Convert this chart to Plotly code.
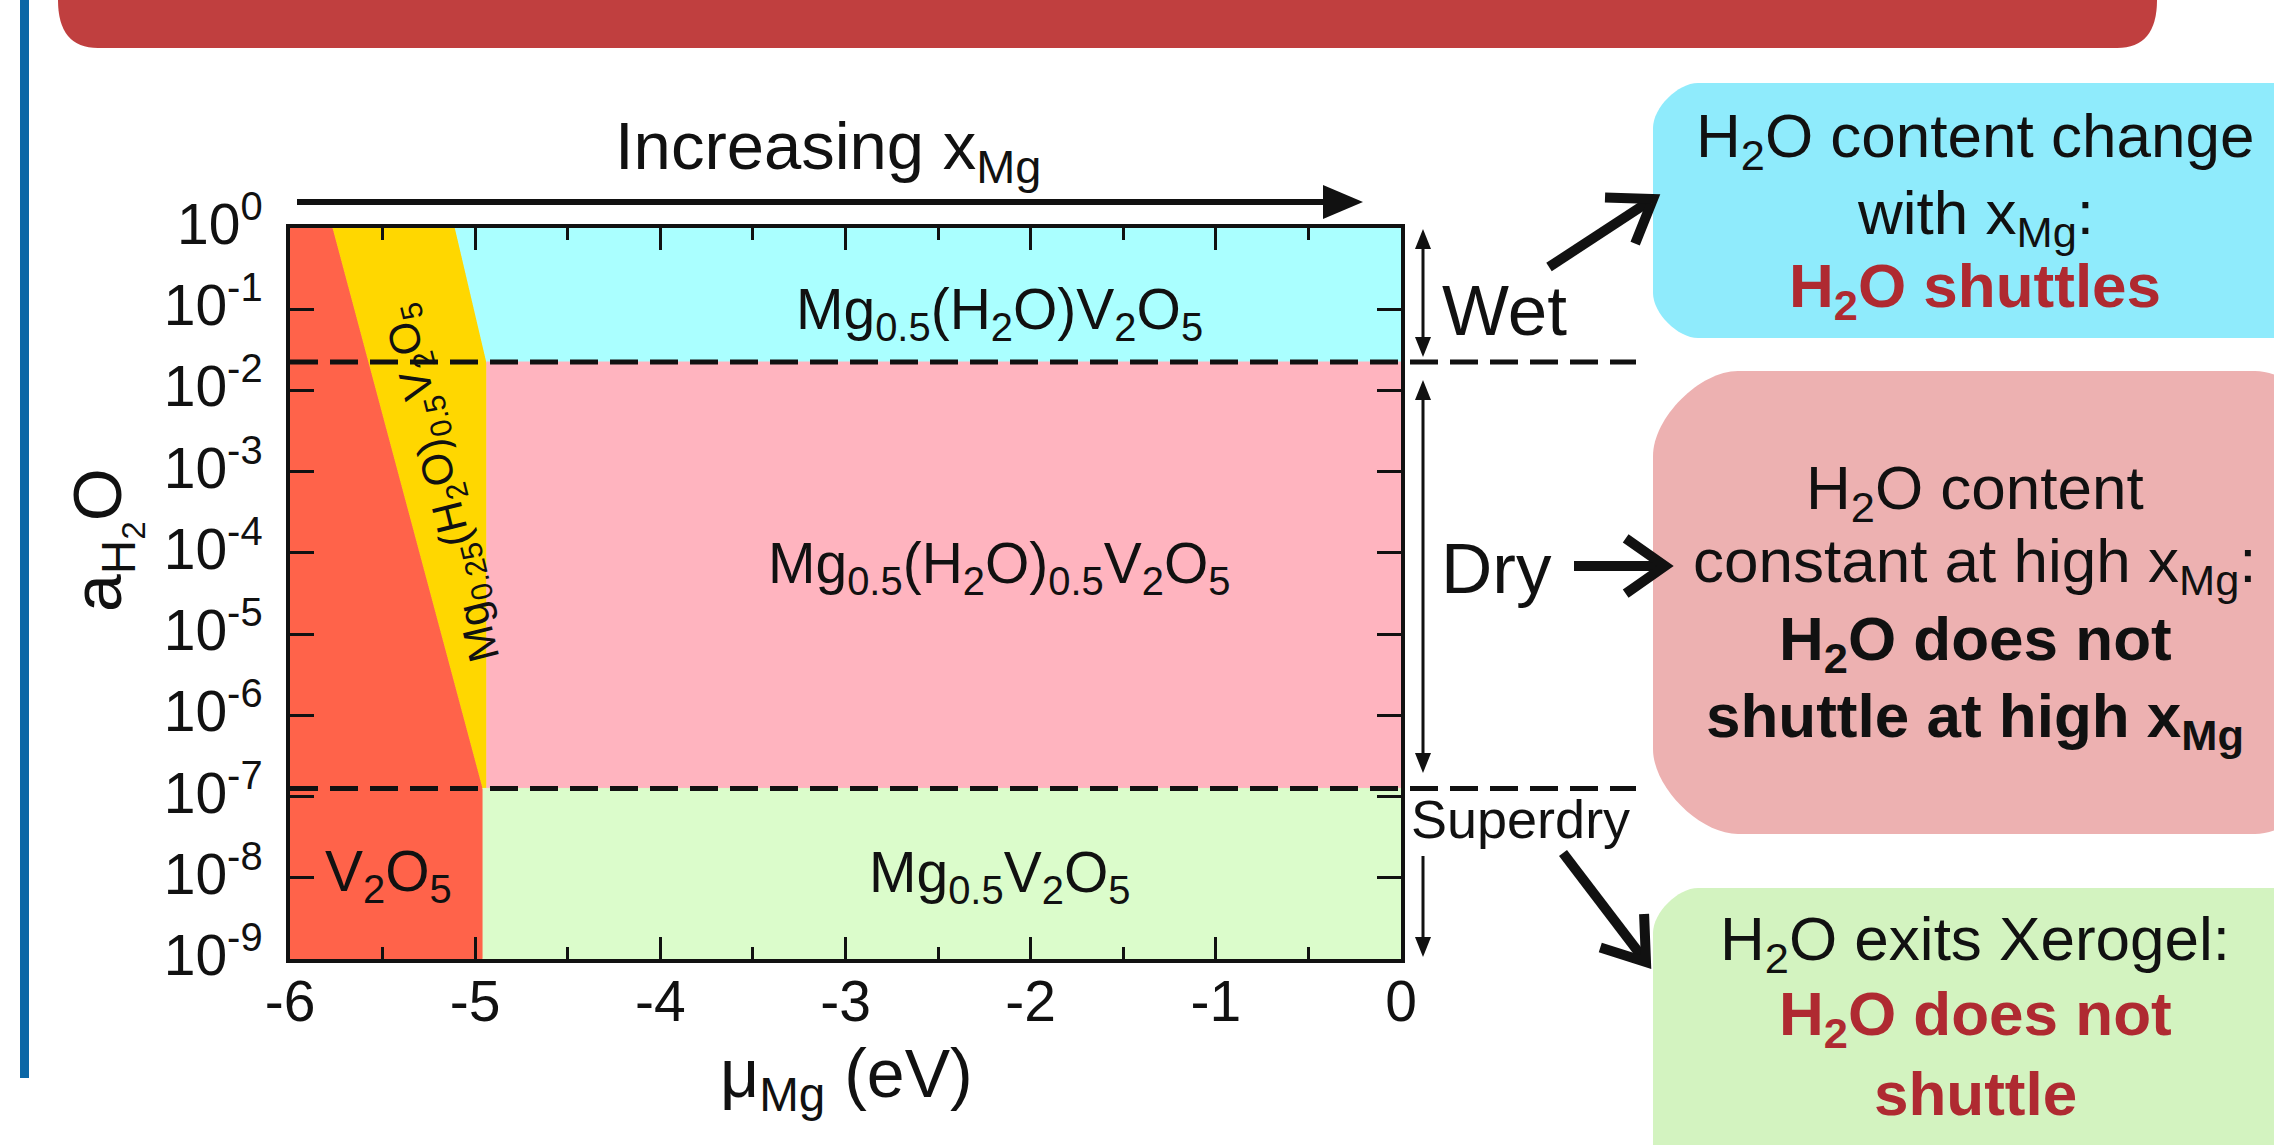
import numpy as np
import plotly.graph_objects as go

W, H = 2274, 1145
FONT = "Liberation Sans, Arial, sans-serif"

# ---------------- data ----------------
mu_min, mu_max = -6.0, 0.0
a_min, a_max = 1e-9, 1.0
x_ticks = [-6, -5, -4, -3, -2, -1, 0]
x_tick_labels = ["-6", "-5", "-4", "-3", "-2", "-1", "0"]
x_minor_ticks = [-5.5, -4.5, -3.5, -2.5, -1.5, -0.5]
y_exponents = [0, -1, -2, -3, -4, -5, -6, -7, -8, -9]
y_tick_vals = [10.0 ** e for e in y_exponents]
y_tick_labels = ["10<sup>%d</sup>" % e for e in y_exponents]

wet_dry_a = 10 ** -1.65        # Wet / Dry boundary
dry_superdry_a = 10 ** -6.9    # Dry / Superdry boundary

# phase boundary chemical potentials (eV)
red_yellow_top_mu = -5.77
red_yellow_bot_mu = -4.96
yellow_cyan_top_mu = -5.11
yellow_right_mu = -4.94
v2o5_edge_mu = -4.96

region_names = ["V2O5", "Mg0.25(H2O)0.5V2O5", "Mg0.5(H2O)V2O5", "Mg0.5(H2O)0.5V2O5", "Mg0.5V2O5"]
region_x = [
    [mu_min, red_yellow_top_mu, red_yellow_bot_mu, v2o5_edge_mu, mu_min],
    [red_yellow_top_mu, yellow_cyan_top_mu, yellow_right_mu, yellow_right_mu, red_yellow_bot_mu],
    [yellow_cyan_top_mu, mu_max, mu_max, yellow_right_mu],
    [yellow_right_mu, mu_max, mu_max, yellow_right_mu],
    [v2o5_edge_mu, mu_max, mu_max, v2o5_edge_mu],
]
region_y = [
    [a_max, a_max, dry_superdry_a, a_min, a_min],
    [a_max, a_max, wet_dry_a, dry_superdry_a, dry_superdry_a],
    [a_max, a_max, wet_dry_a, wet_dry_a],
    [wet_dry_a, wet_dry_a, dry_superdry_a, dry_superdry_a],
    [dry_superdry_a, dry_superdry_a, a_min, a_min],
]
region_colors = ["#FF634A", "#FFD700", "#AAFFFF", "#FFB4BF", "#DBFCCB"]

# region labels (mu, a, text, angle, size)
label_mu = [-2.17, -2.17, -2.17, -5.47, -5.17]
label_a = [10 ** -1.05, 10 ** -4.17, 10 ** -7.98, 10 ** -7.96, 10 ** -3.14]
label_text = [
    "Mg<sub>0.5</sub>(H<sub>2</sub>O)V<sub>2</sub>O<sub>5</sub>",
    "Mg<sub>0.5</sub>(H<sub>2</sub>O)<sub>0.5</sub>V<sub>2</sub>O<sub>5</sub>",
    "Mg<sub>0.5</sub>V<sub>2</sub>O<sub>5</sub>",
    "V<sub>2</sub>O<sub>5</sub>",
    "Mg<sub>0.25</sub>(H<sub>2</sub>O)<sub>0.5</sub>V<sub>2</sub>O<sub>5</sub>",
]
label_angle = [0, 0, 0, 0, -104]
label_size = [57, 57, 57, 57, 43]

# ---------------- layout geometry (pixels) ----------------
PL, PR, PT, PB = 290, 1401, 228, 959


def px(mu):
    return PL + (mu - mu_min) / (mu_max - mu_min) * (PR - PL)


def py(a):
    return PT + (np.log10(a_max) - np.log10(a)) / (np.log10(a_max) - np.log10(a_min)) * (PB - PT)


fig = go.Figure()

for name, xs, ys, col in zip(region_names, region_x, region_y, region_colors):
    fig.add_trace(go.Scatter(x=xs, y=ys, fill="toself", fillcolor=col, mode="lines",
                             line=dict(color=col, width=1), name=name,
                             hoverinfo="skip", showlegend=False))

# overlay pixel-space axes
fig.add_trace(go.Scatter(x=[0], y=[0], xaxis="x2", yaxis="y2", mode="markers",
                         marker=dict(opacity=0), hoverinfo="skip", showlegend=False))

shapes = []
annotations = []


def rrect(x0, y0, x1, y1, r):
    k = 0.45 * r
    return (f"M {x0 + r},{y0} L {x1 - r},{y0} C {x1 - r + k},{y0} {x1},{y0 + r - k} {x1},{y0 + r} "
            f"L {x1},{y1 - r} C {x1},{y1 - r + k} {x1 - r + k},{y1} {x1 - r},{y1} "
            f"L {x0 + r},{y1} C {x0 + r - k},{y1} {x0},{y1 - r + k} {x0},{y1 - r} "
            f"L {x0},{y0 + r} C {x0},{y0 + r - k} {x0 + r - k},{y0} {x0 + r},{y0} Z")


def pshape(path, fill=None, lw=0, lc="black", layer="above"):
    d = dict(type="path", path=path, xref="x2", yref="y2", layer=layer,
             line=dict(width=lw, color=lc))
    if fill:
        d["fillcolor"] = fill
    shapes.append(d)


def line(x0, y0, x1, y1, w, color="#111111", dash="solid"):
    shapes.append(dict(type="line", xref="x2", yref="y2", x0=x0, y0=y0, x1=x1, y1=y1,
                       line=dict(width=w, color=color, dash=dash), layer="above"))


def tri_head(tx, ty, dx, dy, length, half):
    n = np.hypot(dx, dy)
    ux, uy = dx / n, dy / n
    bx, by = tx - ux * length, ty - uy * length
    p1 = (bx - uy * half, by + ux * half)
    p2 = (bx + uy * half, by - ux * half)
    pshape(f"M {tx},{ty} L {p1[0]},{p1[1]} L {p2[0]},{p2[1]} Z", fill="#111111")


def chevron_arrow(x0, y0, x1, y1, w=10, arm=48, ang=35):
    dx, dy = x1 - x0, y1 - y0
    n = np.hypot(dx, dy)
    ux, uy = dx / n, dy / n
    a = np.radians(ang)
    pts = []
    for s in (1, -1):
        rx = -(ux * np.cos(a) - s * uy * np.sin(a))
        ry = -(uy * np.cos(a) + s * ux * np.sin(a))
        pts.append((x1 + rx * arm, y1 + ry * arm))
    pshape(f"M {x0},{y0} L {x1 - ux * 4},{y1 - uy * 4}", lw=w, lc="#111111")
    pshape(f"M {pts[0][0]},{pts[0][1]} L {x1},{y1} L {pts[1][0]},{pts[1][1]}", lw=w, lc="#111111")


# left blue bar and title banner
pshape("M 20,0 L 29,0 L 29,1078 L 20,1078 Z", fill="#0B67A6", layer="below")
pshape("M 58,-120 L 2157,-120 L 2157,0 Q 2157,48 2117,48 L 98,48 Q 58,48 58,0 Z", fill="#C03F3F", layer="below")

# right-side boxes
pshape(rrect(1653, 83, 2340, 338, 45), fill="#8FEBFC", layer="below")
pshape(rrect(1653, 371, 2340, 834, 85), fill="#EDB1B1", layer="below")
pshape(rrect(1653, 888, 2340, 1220, 45), fill="#D3F3C0", layer="below")

# dashed phase lines (extend to the right)
for a in (wet_dry_a, dry_superdry_a):
    line(PL, py(a), 1636, py(a), 5, dash="28px,12px")

# Increasing x arrow
line(297, 202, 1325, 202, 6)
tri_head(1363, 202, 1, 0, 40, 17)

# vertical Wet / Dry / Superdry arrows
AX = 1423
line(AX, 229 + 16, AX, 357 - 16, 3)
tri_head(AX, 229, 0, -1, 20, 8)
tri_head(AX, 357, 0, 1, 20, 8)
line(AX, 380 + 16, AX, 773 - 16, 3)
tri_head(AX, 380, 0, -1, 20, 8)
tri_head(AX, 773, 0, 1, 20, 8)
line(AX, 856, AX, 957 - 16, 3)
tri_head(AX, 957, 0, 1, 20, 8)

# big arrows to boxes
chevron_arrow(1549, 267, 1653, 199)
chevron_arrow(1574, 566, 1665, 566)
chevron_arrow(1563, 853, 1646, 962)


def txt(x, y, text, size, color="#111111", angle=0, xref="x2", yref="y2"):
    annotations.append(dict(x=x, y=y, xref=xref, yref=yref, text=text, showarrow=False,
                            textangle=angle, xanchor="center", yanchor="middle",
                            font=dict(family=FONT, size=size, color=color)))


# region labels (annotations on log axis take log10 of value)
for m, a, t, ang, s in zip(label_mu, label_a, label_text, label_angle, label_size):
    txt(m, np.log10(a), t, s, angle=ang, xref="x", yref="y")

# axis titles & extra labels
txt(105, 540, "a<sub>H<sub>2</sub></sub>O", 68, angle=-90)
txt(846, 1078, "μ<sub>Mg</sub> (eV)", 68)
txt(828, 150, "Increasing x<sub>Mg</sub>", 67)
txt(1504, 310, "Wet", 71)
txt(1496, 568, "Dry", 71)
txt(1520, 819, "Superdry", 54)

RED = "#AF2A31"
BX = 1975
box_lines = [
    (140, "H<sub>2</sub>O content change", "#111111"),
    (217, "with x<sub>Mg</sub>:", "#111111"),
    (290, "<b>H<sub>2</sub>O shuttles</b>", RED),
    (492, "H<sub>2</sub>O content", "#111111"),
    (565, "constant at high x<sub>Mg</sub>:", "#111111"),
    (643, "<b>H<sub>2</sub>O does not</b>", "#111111"),
    (720, "<b>shuttle at high x<sub>Mg</sub></b>", "#111111"),
    (943, "H<sub>2</sub>O exits Xerogel:", "#111111"),
    (1018, "<b>H<sub>2</sub>O does not</b>", RED),
    (1093, "<b>shuttle</b>", RED),
]
for y, t, c in box_lines:
    txt(BX, y, t, 62, color=c)

axis_common = dict(showgrid=False, zeroline=False, showline=True, linecolor="#111111",
                   linewidth=4, mirror="allticks", ticks="inside", tickcolor="#111111",
                   tickwidth=3, automargin=False,
                   tickfont=dict(family=FONT, size=57, color="#111111"))

fig.update_layout(
    width=W, height=H, margin=dict(l=0, r=0, t=0, b=0, pad=0, autoexpand=False),
    paper_bgcolor="white", plot_bgcolor="rgba(0,0,0,0)", showlegend=False,
    xaxis=dict(domain=[PL / W, PR / W], range=[mu_min, mu_max], tickmode="array",
               tickvals=x_ticks, ticktext=x_tick_labels, ticklen=22, ticklabelstandoff=-10,
               minor=dict(tickmode="array", tickvals=x_minor_ticks, ticks="inside", ticklen=12,
                          tickwidth=3, tickcolor="#111111"),
               anchor="y", **axis_common),
    yaxis=dict(domain=[1 - PB / H, 1 - PT / H], type="log", range=[-9, 0], tickmode="array",
               tickvals=y_tick_vals, ticktext=y_tick_labels, ticklen=24, ticklabelstandoff=12,
               ticklabelshift=-4, anchor="x", **axis_common),
    xaxis2=dict(domain=[0, 1], range=[0, W], visible=False, anchor="y2", fixedrange=True,
                automargin=False),
    yaxis2=dict(domain=[0, 1], range=[H, 0], visible=False, anchor="x2", fixedrange=True,
                automargin=False),
    shapes=shapes, annotations=annotations,
)

fig.write_html("out.html", config={"displayModeBar": False})
